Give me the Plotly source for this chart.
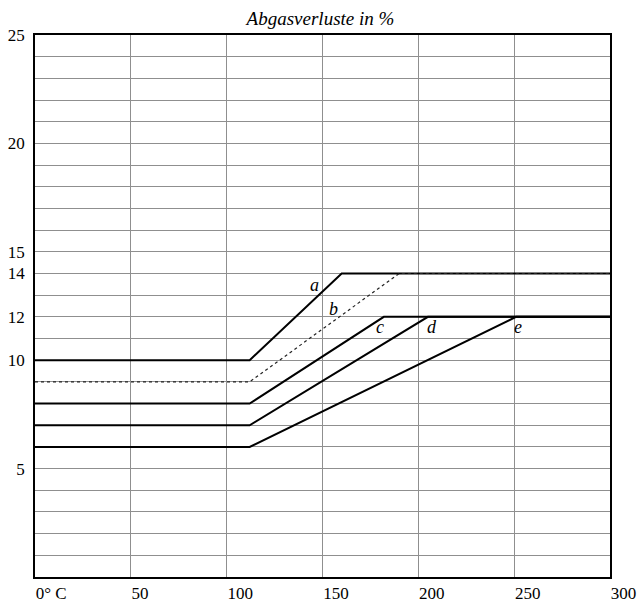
import plotly.graph_objects as go

# Data (temperature in °C vs. Abgasverluste in %)
curve_names = ["a", "b", "c", "d", "e"]
x_a = [0, 112, 160, 300]
y_a = [10, 10, 14, 14]
x_b = [0, 112, 190, 300]
y_b = [9, 9, 14, 14]
x_c = [0, 112, 182, 300]
y_c = [8, 8, 12, 12]
x_d = [0, 112, 205, 300]
y_d = [7, 7, 12, 12]
x_e = [0, 112, 251, 300]
y_e = [6, 6, 12, 12]

label_x = [145.7, 155.6, 180, 207, 251.8]
label_y = [13.47, 12.35, 11.53, 11.53, 11.53]

x_tickvals = [0, 50, 100, 150, 200, 250, 300]
x_ticktext = ["0° C", "50", "100", "150", "200", "250", "300"]
y_tickvals = [5, 10, 12, 14, 15, 20, 25]
y_ticktext = ["5", "10", "12", "14", "15", "20", "25"]

FONT = "Liberation Serif"

fig = go.Figure()
series = [(x_a, y_a), (x_b, y_b), (x_c, y_c), (x_d, y_d), (x_e, y_e)]
for name, (xs, ys) in zip(curve_names, series):
    dotted = name == "b"
    fig.add_trace(go.Scatter(
        x=xs, y=ys, mode="lines", name=name,
        line=dict(color="#222222" if dotted else "black", width=1.2 if dotted else 2,
                  dash="dot" if dotted else "solid"),
        hoverinfo="skip", showlegend=False,
    ))

for name, lx, ly in zip(curve_names, label_x, label_y):
    fig.add_annotation(x=lx, y=ly, text=f"<i>{name}</i>", showarrow=False,
                       font=dict(family=FONT, size=18, color="black"),
                       xanchor="center", yanchor="middle")

fig.update_layout(
    width=641, height=602,
    margin=dict(l=35, r=31, t=35, b=25, autoexpand=False),
    paper_bgcolor="white", plot_bgcolor="white",
    font=dict(family=FONT, size=17, color="black"),
    title=dict(text="<i>Abgasverluste in %</i>", x=0.5, xref="container",
               y=1 - 18 / 602, yref="container", xanchor="center", yanchor="middle",
               font=dict(family=FONT, size=19, color="black")),
)
fig.update_xaxes(
    range=[0, 300], tickvals=x_tickvals, ticktext=x_ticktext,
    ticklabelposition="outside right", ticks="", automargin=False,
    showgrid=True, gridcolor="#8f8f8f", gridwidth=1,
    showline=True, mirror=True, linecolor="black", linewidth=1.5,
    zeroline=False, tickfont=dict(family=FONT, size=17, color="black"),
    ticklabelstandoff=0,
)
fig.update_yaxes(
    range=[0, 25], tickvals=y_tickvals, ticktext=y_ticktext, ticks="",
    showgrid=False, automargin=False,
    showline=True, mirror=True, linecolor="black", linewidth=1.5,
    zeroline=False, tickfont=dict(family=FONT, size=17, color="black"),
    ticklabelstandoff=5,
)
# horizontal grid lines every 1 unit via minor grid
fig.update_yaxes(minor=dict(dtick=1, tick0=0, showgrid=True, gridcolor="#8f8f8f", gridwidth=1, ticks=""))

fig.write_html(
    "out.html",
    config={"displayModeBar": False},
    post_script="document.body.style.margin='0';document.body.style.overflow='hidden';",
)
